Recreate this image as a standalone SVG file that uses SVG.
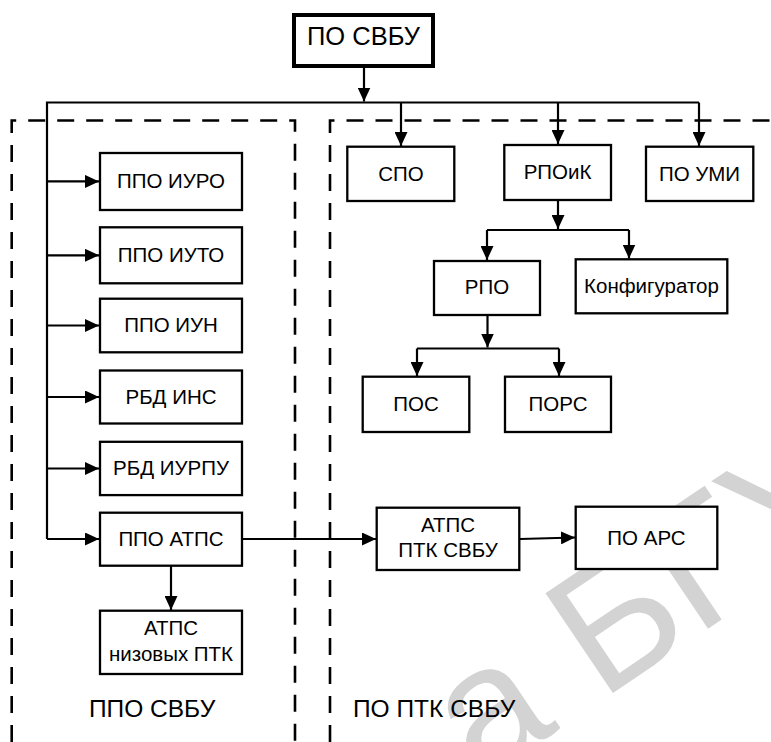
<svg xmlns="http://www.w3.org/2000/svg" width="771" height="742" viewBox="0 0 771 742">
<style>
.box{fill:#fff;stroke:#000;stroke-width:2.3}
.top{fill:#fff;stroke:#000;stroke-width:4}
.t{font-family:"Liberation Sans",Arial,sans-serif;font-size:20.5px;fill:#000;text-anchor:middle}
.big{font-size:25.5px}
.lbl{font-family:"Liberation Sans",Arial,sans-serif;font-size:24.5px;fill:#000}
.c{fill:none;stroke:#000;stroke-width:2.2}
.a{marker-end:url(#ah)}
.dash{fill:none;stroke:#000;stroke-width:2.6;stroke-dasharray:17 12}
.wm{font-family:"Liberation Sans",Arial,sans-serif;font-size:175px;fill:#d3d3d3}
</style>
<defs>
<marker id="ah" viewBox="0 0 14 13" refX="14" refY="6.5" markerWidth="14" markerHeight="13" markerUnits="userSpaceOnUse" orient="auto">
<path d="M0,0 L14,6.5 L0,13 z" fill="#000"/>
</marker>
</defs>
<rect width="771" height="742" fill="#fff"/>
<g id="watermark">
<text class="wm" transform="translate(601,701) rotate(-34)" x="-146" y="0">а БГУ</text>
</g>
<g id="regions">
<path class="dash" d="M11.7,742 V120.5 H295 V742"/>
<path class="dash" d="M330,742 V120.5 H771"/>
<text class="lbl" x="89" y="717">ППО СВБУ</text>
<text class="lbl" x="353" y="717">ПО ПТК СВБУ</text>
</g>
<g id="connectors">
<path class="c a" d="M364,67 V101.5"/>
<path class="c" d="M47,539 V102.5 H699"/>
<path class="c a" d="M699,102.5 V146"/>
<path class="c a" d="M401,102.5 V146"/>
<path class="c a" d="M558,102.5 V144"/>
<path class="c a" d="M47,181.4 H99"/>
<path class="c a" d="M47,255.3 H99"/>
<path class="c a" d="M47,325.5 H99"/>
<path class="c a" d="M47,397 H99"/>
<path class="c a" d="M47,468.5 H99"/>
<path class="c a" d="M47,539 H99"/>
<path class="c a" d="M243,539 H376"/>
<path class="c a" d="M520,539 L575,537.5"/>
<path class="c a" d="M171,566 V610"/>
<path class="c a" d="M558,200 V229"/>
<path class="c" d="M487,230 H629"/>
<path class="c a" d="M487,230 V260"/>
<path class="c a" d="M629,230 V258.5"/>
<path class="c a" d="M487.5,315 V347.5"/>
<path class="c" d="M417,348.5 H559"/>
<path class="c a" d="M417,348.5 V376"/>
<path class="c a" d="M559,348.5 V376"/>
</g>
<g id="n-po-svbu"><rect class="top" x="294" y="15" width="139" height="51"/><text class="t big" x="363.5" y="45">ПО СВБУ</text></g>
<g id="n-ppo-iuro"><rect class="box" x="100" y="153" width="142" height="57"/><text class="t" x="171" y="188">ППО ИУРО</text></g>
<g id="n-ppo-iuto"><rect class="box" x="100" y="227.3" width="142" height="56"/><text class="t" x="171" y="262">ППО ИУТО</text></g>
<g id="n-ppo-iun"><rect class="box" x="100" y="298.7" width="142" height="53.6"/><text class="t" x="171" y="332">ППО ИУН</text></g>
<g id="n-rbd-ins"><rect class="box" x="100" y="370.5" width="142" height="53"/><text class="t" x="171" y="404">РБД ИНС</text></g>
<g id="n-rbd-iurpu"><rect class="box" x="100" y="441.8" width="142" height="53.3"/><text class="t" x="171" y="475">РБД ИУРПУ</text></g>
<g id="n-ppo-atps"><rect class="box" x="100" y="512.7" width="142" height="53"/><text class="t" x="171" y="546">ППО АТПС</text></g>
<g id="n-atps-niz"><rect class="box" x="100" y="610.7" width="142" height="63.3"/><text class="t" x="171" y="635">АТПС</text><text class="t" x="171" y="661">низовых ПТК</text></g>
<g id="n-spo"><rect class="box" x="347.3" y="146.7" width="107" height="54.3"/><text class="t" x="401" y="180.5">СПО</text></g>
<g id="n-rpoik"><rect class="box" x="504.3" y="145" width="106.7" height="55"/><text class="t" x="557.5" y="179">РПОиК</text></g>
<g id="n-po-umi"><rect class="box" x="646" y="146.7" width="107.3" height="54.3"/><text class="t" x="699.5" y="180.5">ПО УМИ</text></g>
<g id="n-rpo"><rect class="box" x="434" y="261" width="106" height="54"/><text class="t" x="487" y="294">РПО</text></g>
<g id="n-konf"><rect class="box" x="575.7" y="259.3" width="151.6" height="54"/><text class="t" x="651.5" y="293">Конфигуратор</text></g>
<g id="n-pos"><rect class="box" x="362.7" y="376.7" width="106.6" height="55.3"/><text class="t" x="416" y="411">ПОС</text></g>
<g id="n-pors"><rect class="box" x="505" y="376.7" width="106" height="55.3"/><text class="t" x="558" y="411">ПОРС</text></g>
<g id="n-atps-ptk"><rect class="box" x="376.7" y="507.7" width="142.6" height="62.3"/><text class="t" x="448" y="532">АТПС</text><text class="t" x="448" y="557">ПТК СВБУ</text></g>
<g id="n-po-ars"><rect class="box" x="575.7" y="506.7" width="141.6" height="62.3"/><text class="t" x="646.5" y="545">ПО АРС</text></g>
</svg>
